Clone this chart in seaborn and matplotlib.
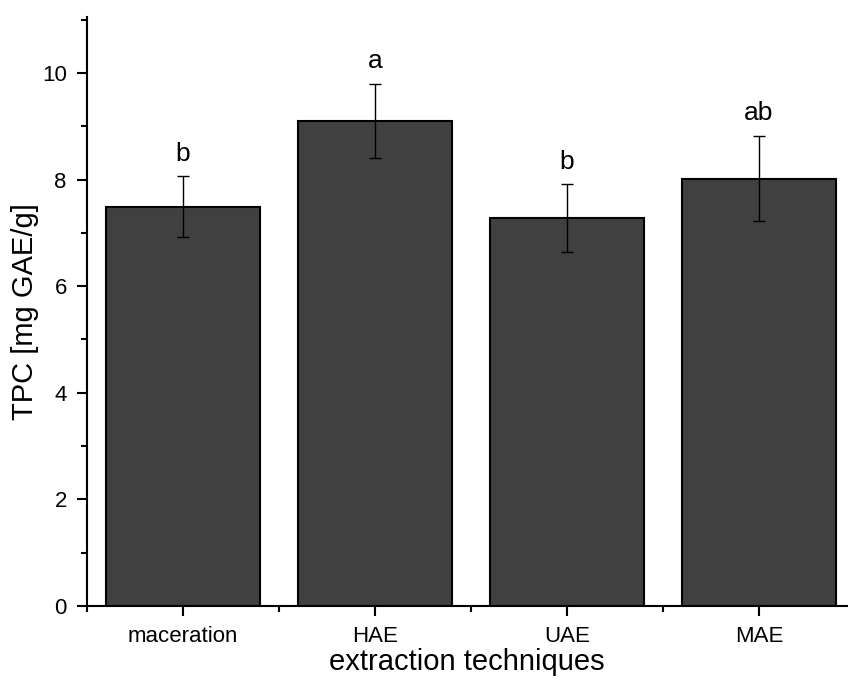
import numpy as np
import pandas as pd
import matplotlib
matplotlib.use("Agg")
import matplotlib.pyplot as plt
from matplotlib.ticker import MultipleLocator, FixedLocator
import seaborn as sns

# values
techniques = ["maceration", "HAE", "UAE", "MAE"]
tpc_mean = [7.49, 9.10, 7.28, 8.02]
tpc_sd = [0.57, 0.70, 0.63, 0.80]
letters = ["b", "a", "b", "ab"]

sns.set_style("ticks")
plt.rcParams["font.family"] = ["Liberation Sans", "DejaVu Sans"]
plt.rcParams["text.color"] = "black"
plt.rcParams["axes.labelcolor"] = "black"
plt.rcParams["xtick.labelcolor"] = "black"
plt.rcParams["ytick.labelcolor"] = "black"

df = pd.DataFrame({"technique": techniques, "tpc": tpc_mean})

fig = plt.figure(figsize=(8.48, 6.8), dpi=100)
# axis runs slightly past the right border in the reference (cropped figure)
ax = fig.add_axes([87 / 848, 74 / 680, 768 / 848, 589 / 680])

sns.barplot(data=df, x="technique", y="tpc", color="#404040", saturation=1,
            edgecolor="black", linewidth=1.5, width=0.8, errorbar=None, ax=ax)

x = np.arange(len(techniques))
ax.errorbar(x, tpc_mean, yerr=tpc_sd, fmt="none", ecolor="black",
            elinewidth=1.0, capsize=4, capthick=1.0, zorder=5)

for xi, m, s, lab in zip(x, tpc_mean, tpc_sd, letters):
    ax.text(xi, m + s + 0.2, lab, ha="center", va="bottom", fontsize=19)

ax.set_xlim(-0.5, 3.5)
ax.set_ylim(0, 11.05)
ax.yaxis.set_major_locator(MultipleLocator(2))
ax.yaxis.set_minor_locator(MultipleLocator(1))
ax.xaxis.set_minor_locator(FixedLocator(np.arange(-0.5, 4, 1.0)))

ax.tick_params(axis="both", which="major", direction="out", length=7.5,
               width=1.5, labelsize=16, color="black", pad=7)
ax.tick_params(axis="both", which="minor", direction="out", length=4,
               width=1.5, color="black")

for side in ["top", "right"]:
    ax.spines[side].set_visible(False)
for side in ["left", "bottom"]:
    ax.spines[side].set_linewidth(1.5)
    ax.spines[side].set_color("black")

ax.set_xlabel("extraction techniques", fontsize=21)
ax.set_ylabel("TPC [mg GAE/g]", fontsize=21)
ax.xaxis.set_label_coords(0.494, -0.072)
ax.yaxis.set_label_coords(-0.062, 0.5)

fig.savefig("out.png", dpi=100)
